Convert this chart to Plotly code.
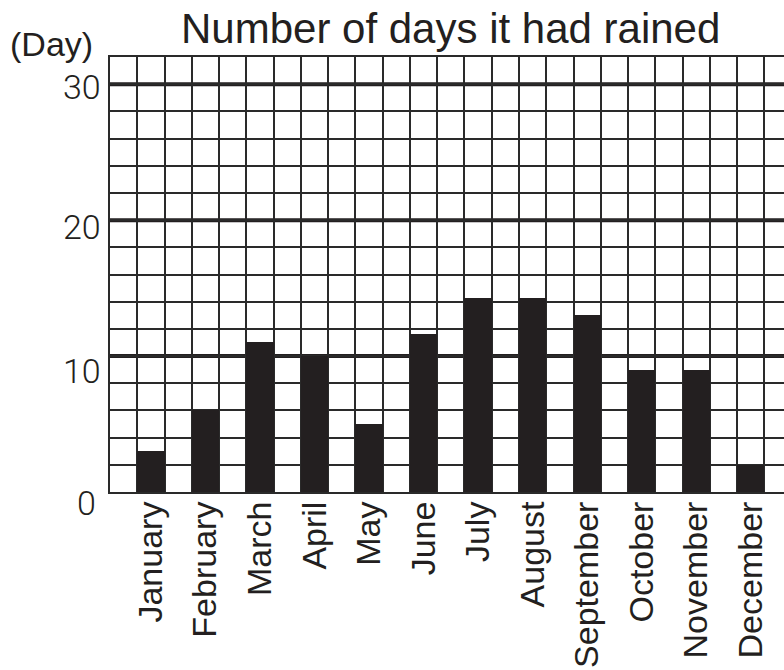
import plotly.graph_objects as go

# Rainy days per month
months = ["January", "February", "March", "April", "May", "June",
          "July", "August", "September", "October", "November", "December"]
rain_days = [3, 6, 11, 10, 5, 11.6, 14.3, 14.3, 13, 9, 9, 2]

# Y-axis labels drawn beside the grid
y_tick_values = [0, 10, 20, 30]
y_tick_labels = ["0", "10", "20", "30"]
y_label_shift = [-11, -15, -7, -3]
y_label_x = [-0.035, -0.011, -0.011, -0.011]
y_label_anchor = ["center", "right", "right", "right"]

INK = "#231f20"
GRID = "#2a2a2a"
FONT = "Liberation Sans, Arial, sans-serif"
LIGHT_FONT = "Roboto, Liberation Sans, sans-serif"

# each month takes one grid cell, with an empty cell before it
bar_x = [2 * i + 1.5 for i in range(len(months))]

fig = go.Figure()
fig.add_trace(go.Bar(
    x=bar_x, y=rain_days, width=1.0,
    marker=dict(color=INK, line=dict(width=0)),
    hoverinfo="skip",
))

# heavier lines every 10 days
for v in [10, 20, 30]:
    fig.add_shape(type="line", xref="paper", x0=0, x1=1, yref="y", y0=v, y1=v,
                  line=dict(color=INK, width=4), layer="below")

for v, t, s, x, a in zip(y_tick_values, y_tick_labels, y_label_shift, y_label_x, y_label_anchor):
    fig.add_annotation(text=t, xref="paper", x=x, xanchor=a, yref="y", y=v,
                       yshift=s, yanchor="middle", showarrow=False,
                       font=dict(family=LIGHT_FONT, size=34, color=INK, weight=300))

fig.add_annotation(text="Number of days it had rained", xref="paper", x=(450.5 - 110) / 674,
                   xanchor="center", yref="paper", y=(492 - 28) / 435, yanchor="middle",
                   showarrow=False, font=dict(family=FONT, size=42, color=INK))
fig.add_annotation(text="(Day)", xref="paper", x=(8 - 110) / 674, xanchor="left",
                   yref="paper", y=(492 - 44) / 435, yanchor="middle",
                   showarrow=False, font=dict(family=FONT, size=34, color=INK))

fig.update_layout(
    width=784, height=670, autosize=False,
    margin=dict(l=110, r=0, t=57, b=178),
    paper_bgcolor="white", plot_bgcolor="white",
    showlegend=False, bargap=0,
    font=dict(family=FONT, color=INK),
    xaxis=dict(
        range=[0, 24.72], tickmode="array", tickvals=bar_x, ticktext=months,
        tickangle=-90, ticks="", ticklabelstandoff=-6, automargin=False,
        tickfont=dict(family=FONT, size=34, color=INK),
        showgrid=False, zeroline=False,
        minor=dict(tickmode="linear", tick0=0, dtick=1, showgrid=True,
                   gridcolor=GRID, gridwidth=2, ticks=""),
        showline=True, linecolor=GRID, linewidth=2, mirror=True,
        fixedrange=True,
    ),
    yaxis=dict(
        range=[0, 32], tickmode="linear", tick0=0, dtick=2,
        showticklabels=False, ticks="", automargin=False,
        showgrid=True, gridcolor=GRID, gridwidth=2, zeroline=False,
        showline=True, linecolor=GRID, linewidth=2,
        fixedrange=True,
    ),
)

fig.write_html("out.html")
